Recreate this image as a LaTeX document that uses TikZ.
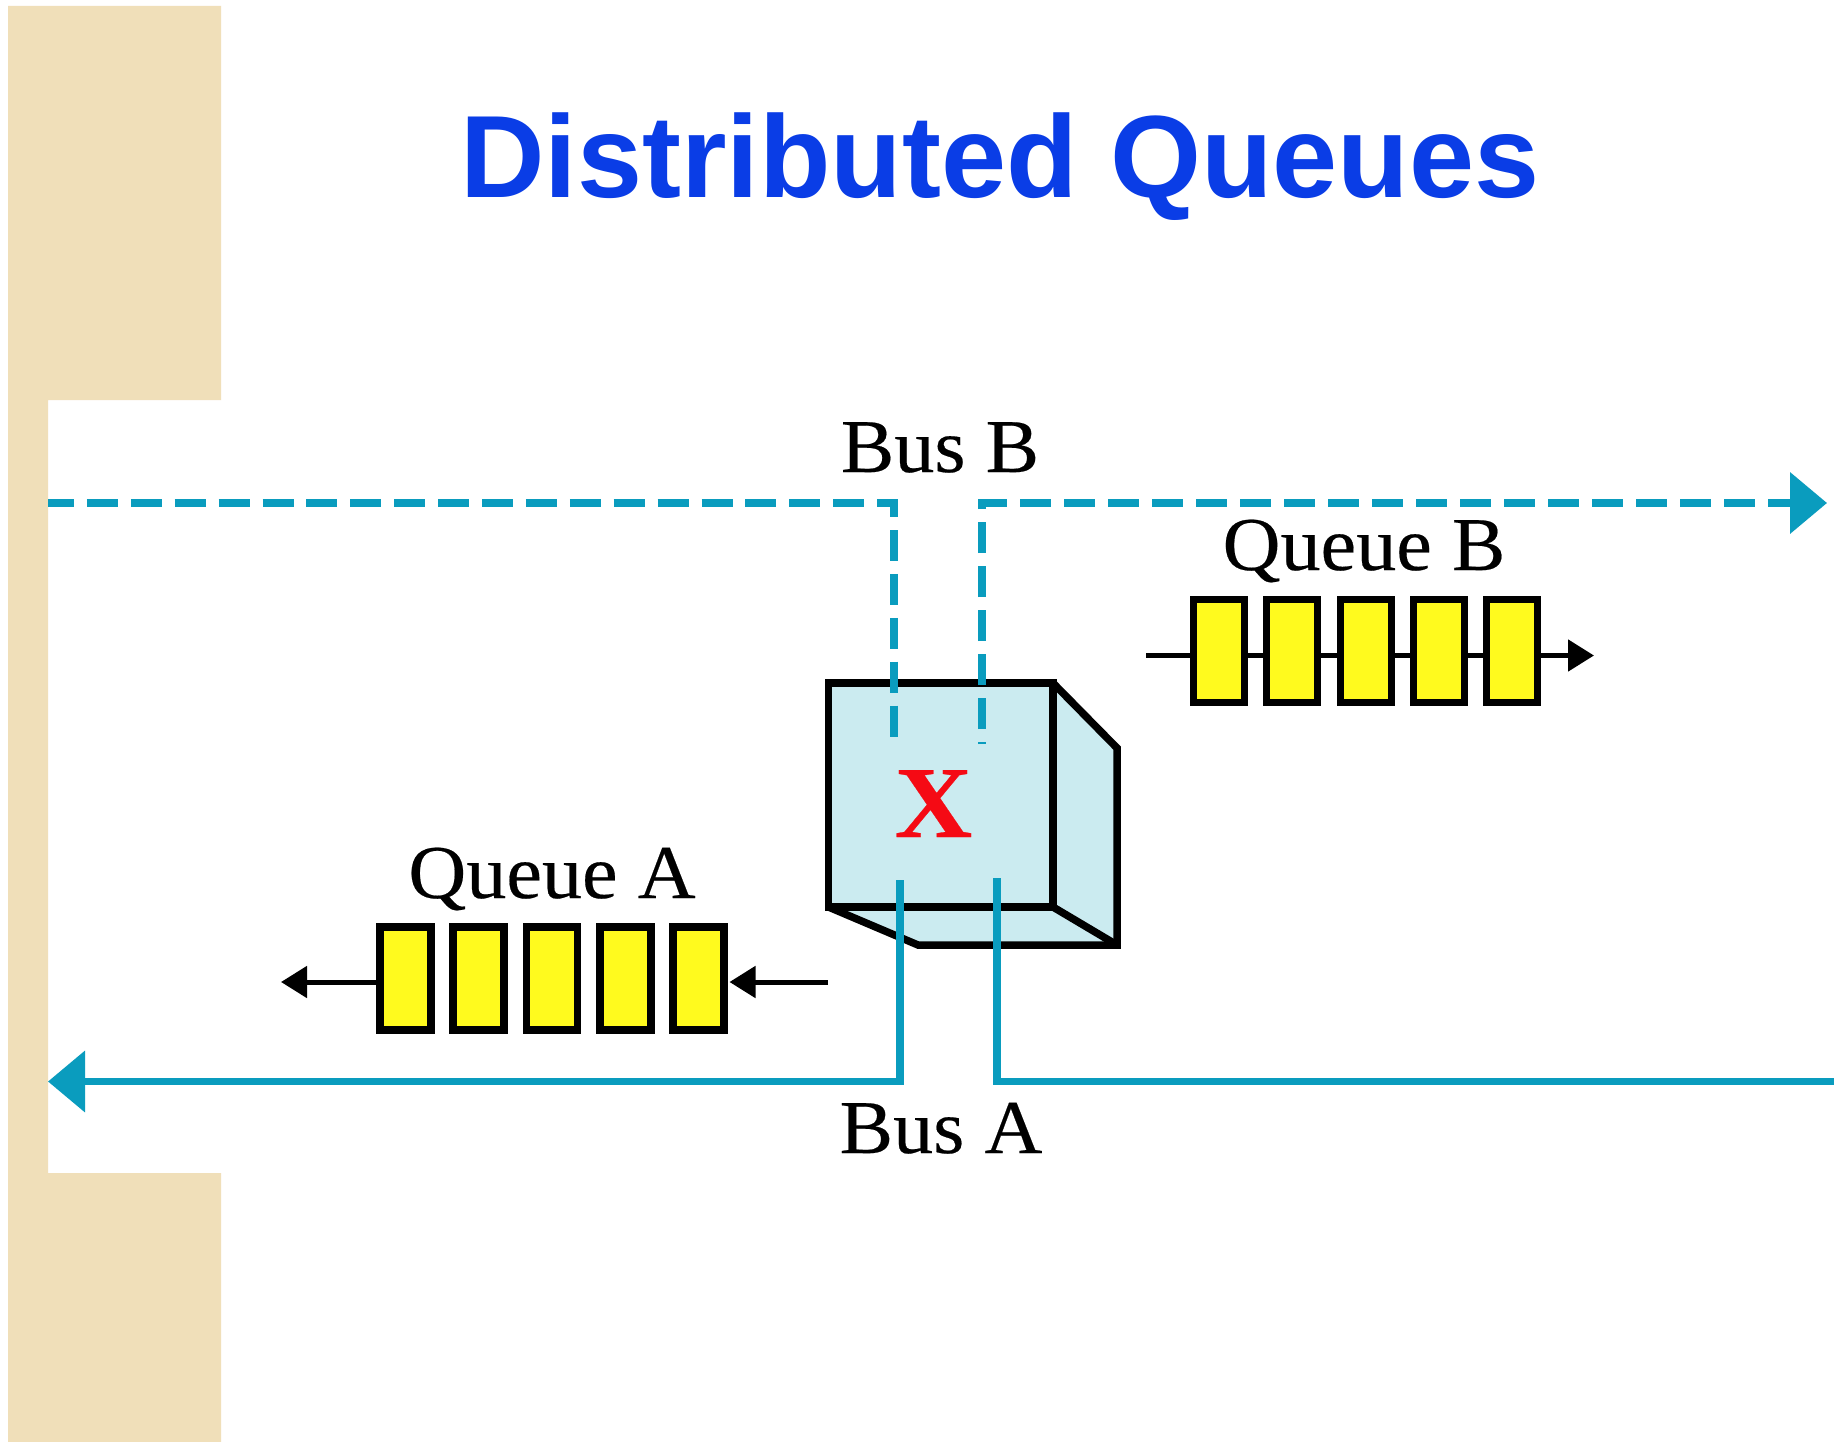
\documentclass[tikz,border=0pt]{standalone}
\usepackage{fontspec}
\setmainfont[FakeStretch=1.055,FakeBold=0.25]{Liberation Serif}
\newfontfamily\titlefont{Liberation Sans}
\usetikzlibrary{arrows.meta}
\definecolor{sidebar}{HTML}{F0DFB9}
\definecolor{busteal}{HTML}{0A9CBE}
\definecolor{titleblue}{HTML}{0A3DE6}
\definecolor{cubeblue}{HTML}{CBEBF0}
\definecolor{cellyellow}{HTML}{FFFA1E}
\definecolor{markred}{HTML}{F50A14}
\tikzset{
  cell/.style={draw=black,fill=cellyellow,line width=7.5pt,minimum width=51pt,minimum height=102.6pt,inner sep=0pt},
  lbl/.style={anchor=base,inner sep=0pt,font=\fontsize{76pt}{80pt}\selectfont},
  qline/.style={line width=5pt,black},
  qarrow/.style={qline,-{Triangle[length=26pt,width=31pt]}},
  busline/.style={line width=7.5pt,busteal},
  busarrow/.style={busline,-{Triangle[length=37pt,width=60pt]}},
  cubeedge/.style={draw=black,line width=7.5pt,line join=miter},
}
\begin{document}
\begin{tikzpicture}[x=1pt,y=-1pt]
\fill[white] (0,0) rectangle (1838,1442);
\useasboundingbox (0,0) rectangle (1838,1442);
% side bar
\fill[sidebar] (8,6) -- (221,6) -- (221,400) -- (48,400) -- (48,1173) -- (221,1173) -- (221,1442) -- (8,1442) -- cycle;
% title
\node[anchor=base,inner sep=0pt,text=titleblue,font=\titlefont\bfseries\fontsize{117pt}{120pt}\selectfont] (title) at (1000,197) {Distributed Queues};
% cube
\node[cubeedge,fill=cubeblue,minimum width=224.5pt,minimum height=224pt,inner sep=0pt,outer sep=0pt] (cube) at (940.75,795) {};
\coordinate (ctr) at (1117,748);
\coordinate (cbr) at (1117,945);
\coordinate (cbl) at (918,945);
\fill[cubeblue] (cube.north east) -- (ctr) -- (cbr) -- (cbl) -- (cube.south west) -- (cube.south east) -- cycle;
\draw[cubeedge,line cap=round] (cube.north east) -- (ctr) -- (cbr) -- (cbl) -- (cube.south west);
\draw[cubeedge] (cube.south east) -- (cbr);
\draw[cubeedge] (cube.south west) rectangle (cube.north east);
\node[anchor=base,inner sep=0pt,text=markred,font=\bfseries\fontsize{102pt}{104pt}\selectfont] (mark) at (933.5,837) {X};
% bus B
\coordinate (bbl) at (48,503);
\coordinate (bbla) at (894,503);
\coordinate (bblb) at (894,737);
\coordinate (bbrb) at (982,744);
\coordinate (bbra) at (982,503);
\coordinate (bbr) at (1827,503);
\draw[busline,dash pattern=on 31pt off 12.9pt,dash phase=5pt] (bbl) -- (bbla) -- (bblb);
\draw[busarrow,dash pattern=on 31pt off 13pt,dash phase=29pt] (bbrb) -- (bbra) -- (bbr);
% bus A
\coordinate (bal) at (48,1081.5);
\coordinate (bala) at (900,1081.5);
\coordinate (balb) at (900,880);
\coordinate (barb) at (997,878);
\coordinate (bara) at (997,1081.5);
\coordinate (bar) at (1834,1081.5);
\draw[busarrow,line join=miter] (balb) -- (bala) -- (bal);
\draw[busline,line join=miter] (barb) -- (bara) -- (bar);
% labels
\node[lbl] (busb) at (940,472) {Bus B};
\node[lbl] (busa) at (941,1153) {Bus A};
\node[lbl] (queueb) at (1364,570) {Queue B};
\node[lbl] (queuea) at (552,898) {Queue A};
% queue A
\node[cell] (a1) at (405.5,978.5) {};
\node[cell] (a2) at (478.5,978.5) {};
\node[cell] (a3) at (552,978.5) {};
\node[cell] (a4) at (625.5,978.5) {};
\node[cell] (a5) at (698.5,978.5) {};
\coordinate (aline) at (0,982);
\coordinate (aout) at (281,982);
\coordinate (ain) at (828,982);
\coordinate (aintip) at (729.5,982);
\draw[qarrow] (a1.west |- aline) -- (aout);
\draw[qarrow] (ain) -- (aintip);
% queue B
\coordinate (bin) at (1146,655.5);
\coordinate (bout) at (1594,655.5);
\node[cell] (b1) at (1219,651) {};
\node[cell] (b2) at (1292,651) {};
\node[cell] (b3) at (1366,651) {};
\node[cell] (b4) at (1439,651) {};
\node[cell] (b5) at (1512,651) {};
\draw[qline] (bin) -- (b1.west |- bin);
\draw[qline] (b1.east |- bin) -- (b2.west |- bin);
\draw[qline] (b2.east |- bin) -- (b3.west |- bin);
\draw[qline] (b3.east |- bin) -- (b4.west |- bin);
\draw[qline] (b4.east |- bin) -- (b5.west |- bin);
\draw[qarrow] (b5.east |- bin) -- (bout);
\end{tikzpicture}
\end{document}
